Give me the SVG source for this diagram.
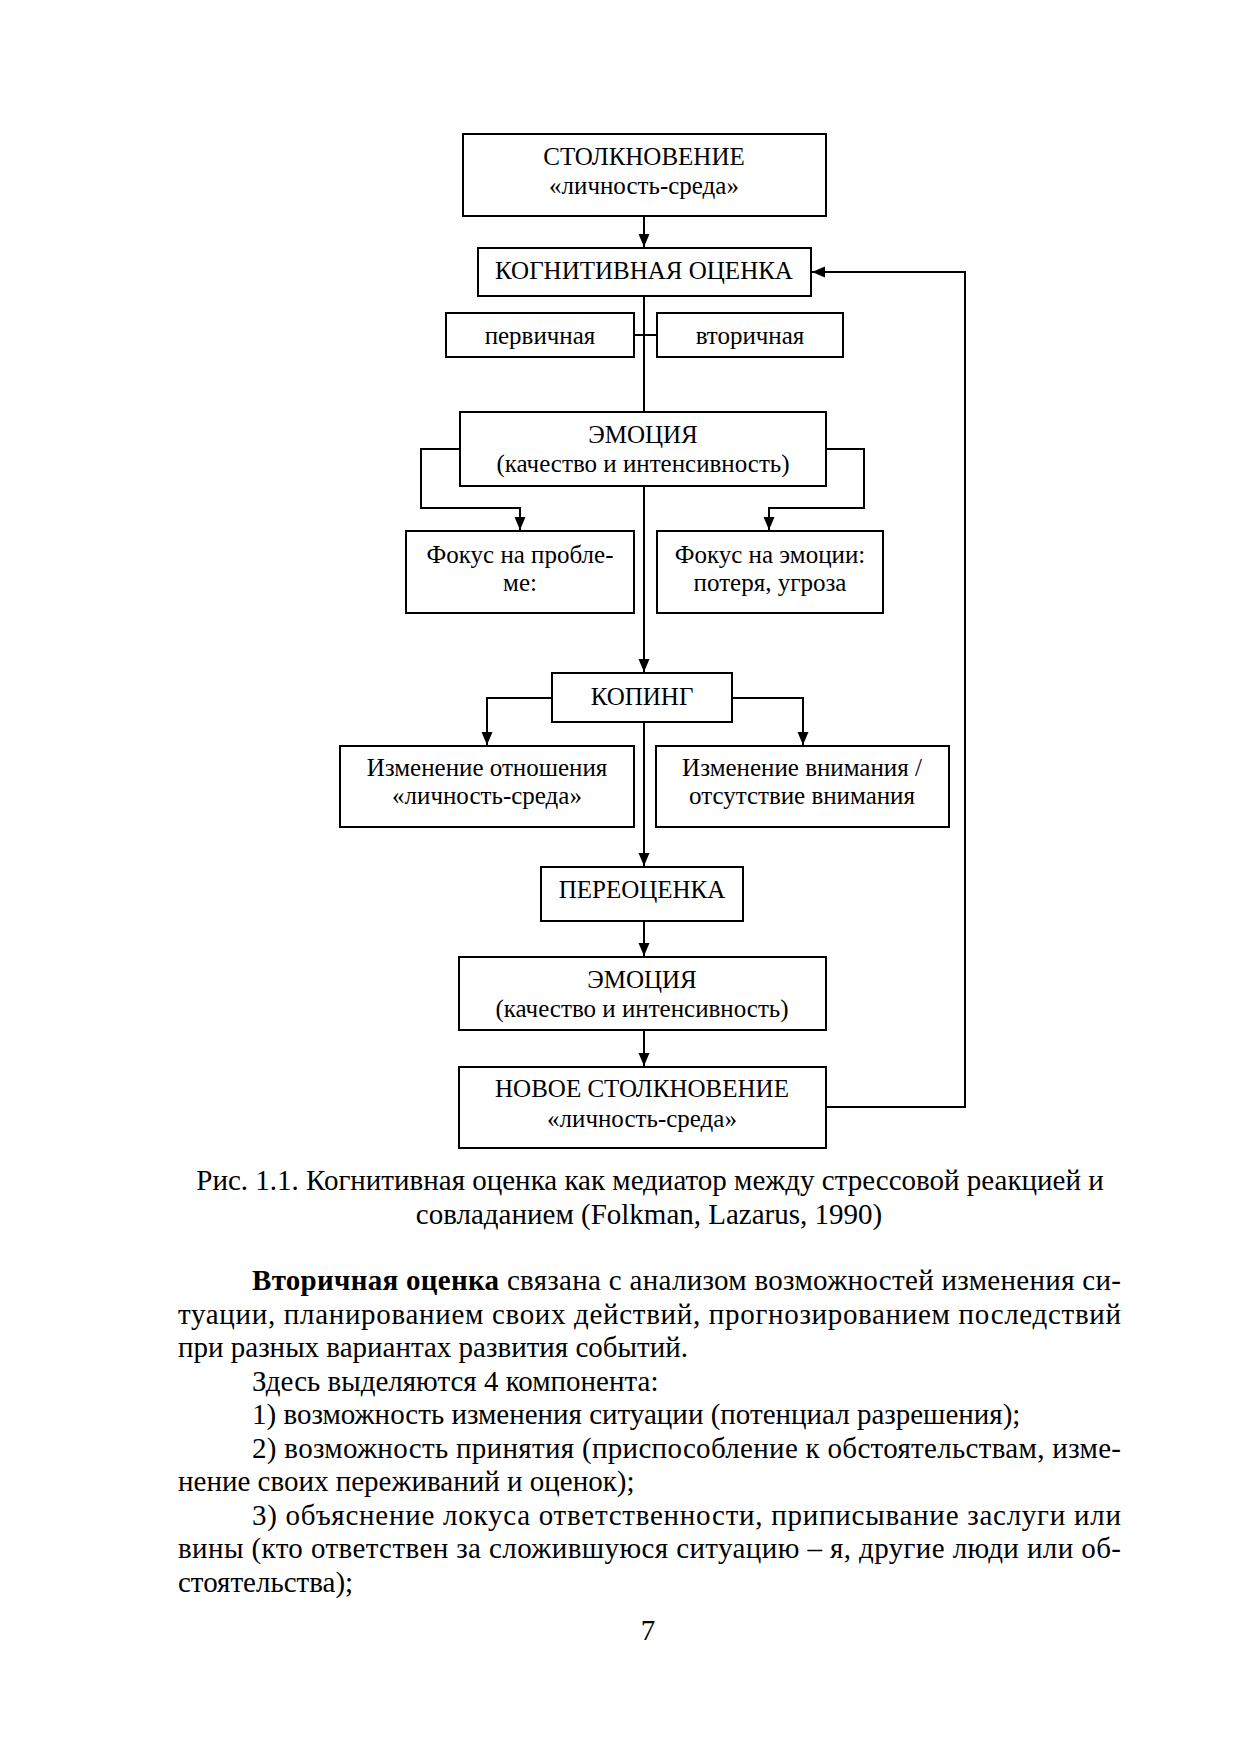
<svg xmlns="http://www.w3.org/2000/svg" width="1241" height="1754" viewBox="0 0 1241 1754">
<style>
.box{fill:#fff;stroke:#000;stroke-width:2}
.t{font-family:"Liberation Serif","Times New Roman",serif;font-size:25px;fill:#000;text-anchor:middle}
.c{fill:none;stroke:#000;stroke-width:2}
.p{font-family:"Liberation Serif","Times New Roman",serif;font-size:29px;fill:#000}
.pc{font-family:"Liberation Serif","Times New Roman",serif;font-size:29px;fill:#000;text-anchor:middle}
</style>
<defs>
<marker id="ah" markerUnits="userSpaceOnUse" markerWidth="14" markerHeight="14" viewBox="0 0 14 14" refX="13" refY="7" orient="auto">
<path d="M0,1.5 L13,7 L0,12.5 Z" fill="#000"/>
</marker>
</defs>
<rect width="1241" height="1754" fill="#fff"/>
<g id="connectors">
<path class="c" d="M644,216 V247" marker-end="url(#ah)"/>
<path class="c" d="M644,296 V412"/>
<path class="c" d="M634,335 H657"/>
<path class="c" d="M460,449 H421 V508 H520 V530" marker-end="url(#ah)"/>
<path class="c" d="M826,449 H864 V508 H769 V530" marker-end="url(#ah)"/>
<path class="c" d="M644,486 V672" marker-end="url(#ah)"/>
<path class="c" d="M552,698 H487 V745" marker-end="url(#ah)"/>
<path class="c" d="M732,698 H803 V745" marker-end="url(#ah)"/>
<path class="c" d="M644,722 V866" marker-end="url(#ah)"/>
<path class="c" d="M644,921 V956" marker-end="url(#ah)"/>
<path class="c" d="M644,1030 V1066" marker-end="url(#ah)"/>
<path class="c" d="M826,1107 H965 V272 H812" marker-end="url(#ah)"/>
</g>
<g id="n1"><rect class="box" x="463" y="134" width="363" height="82"/><text class="t" x="644" y="165">СТОЛКНОВЕНИЕ</text><text class="t" x="644" y="194">«личность-среда»</text></g>
<g id="n2"><rect class="box" x="478" y="248" width="333" height="48"/><text class="t" x="644" y="279">КОГНИТИВНАЯ ОЦЕНКА</text></g>
<g id="n3"><rect class="box" x="446" y="313" width="188" height="44"/><text class="t" x="540" y="344">первичная</text></g>
<g id="n4"><rect class="box" x="657" y="313" width="186" height="44"/><text class="t" x="750" y="344">вторичная</text></g>
<g id="n5"><rect class="box" x="460" y="412" width="366" height="74"/><text class="t" x="643" y="443">ЭМОЦИЯ</text><text class="t" x="643" y="472">(качество и интенсивность)</text></g>
<g id="n6"><rect class="box" x="406" y="531" width="228" height="82"/><text class="t" x="520" y="563">Фокус на пробле-</text><text class="t" x="520" y="591">ме:</text></g>
<g id="n7"><rect class="box" x="657" y="531" width="226" height="82"/><text class="t" x="770" y="563">Фокус на эмоции:</text><text class="t" x="770" y="591">потеря, угроза</text></g>
<g id="n8"><rect class="box" x="552" y="673" width="180" height="49"/><text class="t" x="642" y="705">КОПИНГ</text></g>
<g id="n9"><rect class="box" x="340" y="746" width="294" height="81"/><text class="t" x="487" y="776">Изменение отношения</text><text class="t" x="487" y="804">«личность-среда»</text></g>
<g id="n10"><rect class="box" x="656" y="746" width="293" height="81"/><text class="t" x="802" y="776">Изменение внимания /</text><text class="t" x="802" y="804">отсутствие внимания</text></g>
<g id="n11"><rect class="box" x="541" y="867" width="202" height="54"/><text class="t" x="642" y="898">ПЕРЕОЦЕНКА</text></g>
<g id="n12"><rect class="box" x="459" y="957" width="367" height="73"/><text class="t" x="642" y="988">ЭМОЦИЯ</text><text class="t" x="642" y="1017">(качество и интенсивность)</text></g>
<g id="n13"><rect class="box" x="459" y="1067" width="367" height="81"/><text class="t" x="642" y="1097">НОВОЕ СТОЛКНОВЕНИЕ</text><text class="t" x="642" y="1127">«личность-среда»</text></g>
<g id="caption">
<text class="pc" x="650" y="1190">Рис. 1.1. Когнитивная оценка как медиатор между стрессовой реакцией и</text>
<text class="pc" x="649" y="1224">совладанием (Folkman, Lazarus, 1990)</text>
</g>
<g id="body">
<text class="p" x="252" y="1290" textLength="869" lengthAdjust="spacing"><tspan font-weight="bold">Вторичная оценка</tspan> связана с анализом возможностей изменения си-</text>
<text class="p" x="178" y="1324" textLength="943" lengthAdjust="spacing">туации, планированием своих действий, прогнозированием последствий</text>
<text class="p" x="178" y="1357">при разных вариантах развития событий.</text>
<text class="p" x="252" y="1391">Здесь выделяются 4 компонента:</text>
<text class="p" x="252" y="1424">1) возможность изменения ситуации (потенциал разрешения);</text>
<text class="p" x="252" y="1458" textLength="869" lengthAdjust="spacing">2) возможность принятия (приспособление к обстоятельствам, изме-</text>
<text class="p" x="178" y="1491">нение своих переживаний и оценок);</text>
<text class="p" x="252" y="1525" textLength="869" lengthAdjust="spacing">3) объяснение локуса ответственности, приписывание заслуги или</text>
<text class="p" x="178" y="1558" textLength="943" lengthAdjust="spacing">вины (кто ответствен за сложившуюся ситуацию – я, другие люди или об-</text>
<text class="p" x="178" y="1592">стоятельства);</text>
<text class="pc" x="648" y="1640">7</text>
</g>
</svg>
